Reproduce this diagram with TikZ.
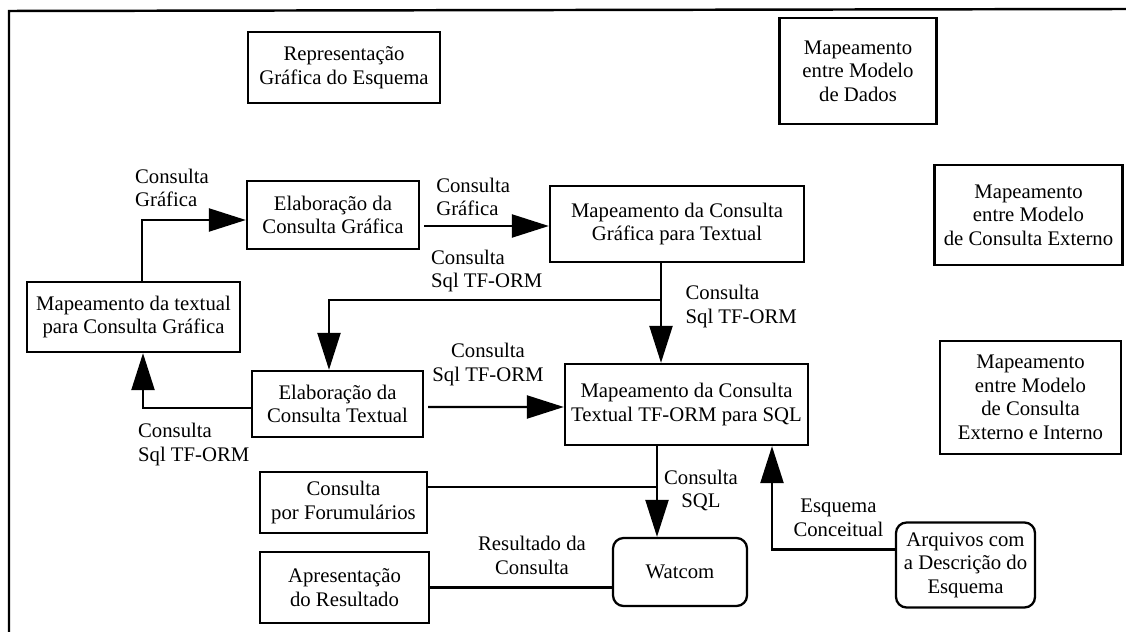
\documentclass[tikz,border=0pt]{standalone}
\usepackage{fontspec}
\setmainfont{Liberation Serif}
\usepackage{tikz}
\usetikzlibrary{positioning, arrows.meta, calc}

\begin{document}
\begin{tikzpicture}[x=0.2mm, y=-0.2mm,
          box/.style={rectangle, draw, line width=1.3pt, inner sep=0pt,
                      font=\fontsize{11.8}{13.4}\selectfont, align=center},
          rbox/.style={box, rounded corners=6pt},
          arr/.style={-{Triangle[length=7.4mm, width=4.6mm]}, line width=1.3pt},
          ln/.style={line width=1.3pt},
          lbl/.style={font=\fontsize{11.8}{13.4}\selectfont, align=left, inner sep=0pt},
          lblc/.style={lbl, align=center}
        ]
        \useasboundingbox (0,0) rectangle (1126,632);
        % outer frame (open at right and bottom)
        \draw[line width=1.4pt] (9,632) -- (9,11) -- (1126,9);

        \node[box, minimum width=38.4mm, minimum height=14.2mm] (rep) at (344,67.5)
              {Representação\\Gráfica do Esquema};
        \node[box, minimum width=31.4mm, minimum height=21.2mm] (dados) at (858,71)
              {Mapeamento\\entre Modelo\\de Dados};
        \node[box, minimum width=34.4mm, minimum height=13.6mm] (elabG) at (333,215)
              {Elaboração da\\Consulta Gráfica};
        \node[box, minimum width=50.8mm, minimum height=15.2mm] (mapGT) at (677,224)
              {Mapeamento da Consulta\\Gráfica para Textual};
        \node[box, minimum width=37.6mm, minimum height=20mm] (ext) at (1028.5,215)
              {Mapeamento\\entre Modelo\\de Consulta Externo};
        \node[box, minimum width=42.6mm, minimum height=14mm] (mapTG) at (133.5,317)
              {Mapeamento da textual\\para Consulta Gráfica};
        \node[box, minimum width=34.2mm, minimum height=13.2mm] (elabT) at (337.5,404)
              {Elaboração da\\Consulta Textual};
        \node[box, minimum width=48.6mm, minimum height=16.2mm] (mapSQL) at (686.5,404.5)
              {Mapeamento da Consulta\\Textual TF-ORM para SQL};
        \node[box, minimum width=36.2mm, minimum height=22.6mm] (extint) at (1030.5,397.5)
              {Mapeamento\\entre Modelo\\de Consulta\\Externo e Interno};
        \node[box, minimum width=33.4mm, minimum height=12.2mm] (form) at (343.5,502.5)
              {Consulta\\por Forumulários};
        \node[box, minimum width=33.8mm, minimum height=14.2mm] (apres) at (344.5,587.5)
              {Apresentação\\do Resultado};
        \node[rbox, minimum width=26.8mm, minimum height=13.6mm] (wat) at (680,572)
              {Watcom};
        \node[rbox, minimum width=27.8mm, minimum height=17mm] (arq) at (965.5,565)
              {Arquivos com\\a Descrição do\\Esquema};

        % helper points
        \coordinate (bS) at ([xshift=0.8mm, yshift=-2.2mm]elabG.east);
        \coordinate (cT) at ([xshift=-3.2mm]mapGT.south);
        \coordinate (cJ) at ([yshift=-7.4mm]cT);
        \coordinate (fT) at ([xshift=-5.9mm]mapSQL.south);
        \coordinate (gS) at ([yshift=3.1mm]form.east);
        \coordinate (iS) at ([yshift=3.1mm]arq.west);

        % query flow
        \draw[arr] ([xshift=1.7mm]mapTG.north) |-
              node[lbl, anchor=south west, xshift=-1.6mm, yshift=2.4mm]{Consulta\\Gráfica}
              ([yshift=-1mm]elabG.west);
        \draw[arr] (bS) --
              node[lbl, pos=0, anchor=south west, xshift=2.2mm, yshift=1.8mm]{Consulta\\Gráfica}
              (bS -| mapGT.west);
        \draw[arr] (cT) --
              node[lbl, pos=0.21, anchor=north west, xshift=4.7mm]{Consulta\\Sql TF-ORM}
              (cT |- mapSQL.north);
        \draw[arr] (cJ) -|
              node[lbl, anchor=south west, xshift=20.2mm, yshift=1.4mm]{Consulta\\Sql TF-ORM}
              ([xshift=-1.7mm]elabT.north);
        \draw[arr] ([xshift=0.8mm, yshift=-0.6mm]elabT.east) --
              node[lblc, anchor=south, xshift=-1.6mm, yshift=4mm]{Consulta\\Sql TF-ORM}
              ([yshift=-0.5mm]mapSQL.west);
        \draw[arr] ([yshift=-0.8mm]elabT.west) -|
              node[lbl, anchor=north west, xshift=-1.2mm, yshift=-2.8mm]{Consulta\\Sql TF-ORM}
              ([xshift=1.9mm]mapTG.south);

        % SQL side
        \draw[arr] (fT) --
              node[lblc, pos=0.25, anchor=north, xshift=8.8mm]{Consulta\\SQL}
              (fT |- wat.north);
        \draw[ln] (gS) -- (gS -| fT);
        \draw[ln] (apres.east) --
              node[lblc, anchor=south, xshift=2.2mm, yshift=2.4mm]{Resultado da\\Consulta}
              (apres.east -| wat.west);
        \draw[arr] (iS) -|
              node[lblc, pos=0.25, anchor=south, xshift=1mm, yshift=2.4mm]{Esquema\\Conceitual}
              ([xshift=17.1mm]mapSQL.south);
      \end{tikzpicture}
\end{document}
